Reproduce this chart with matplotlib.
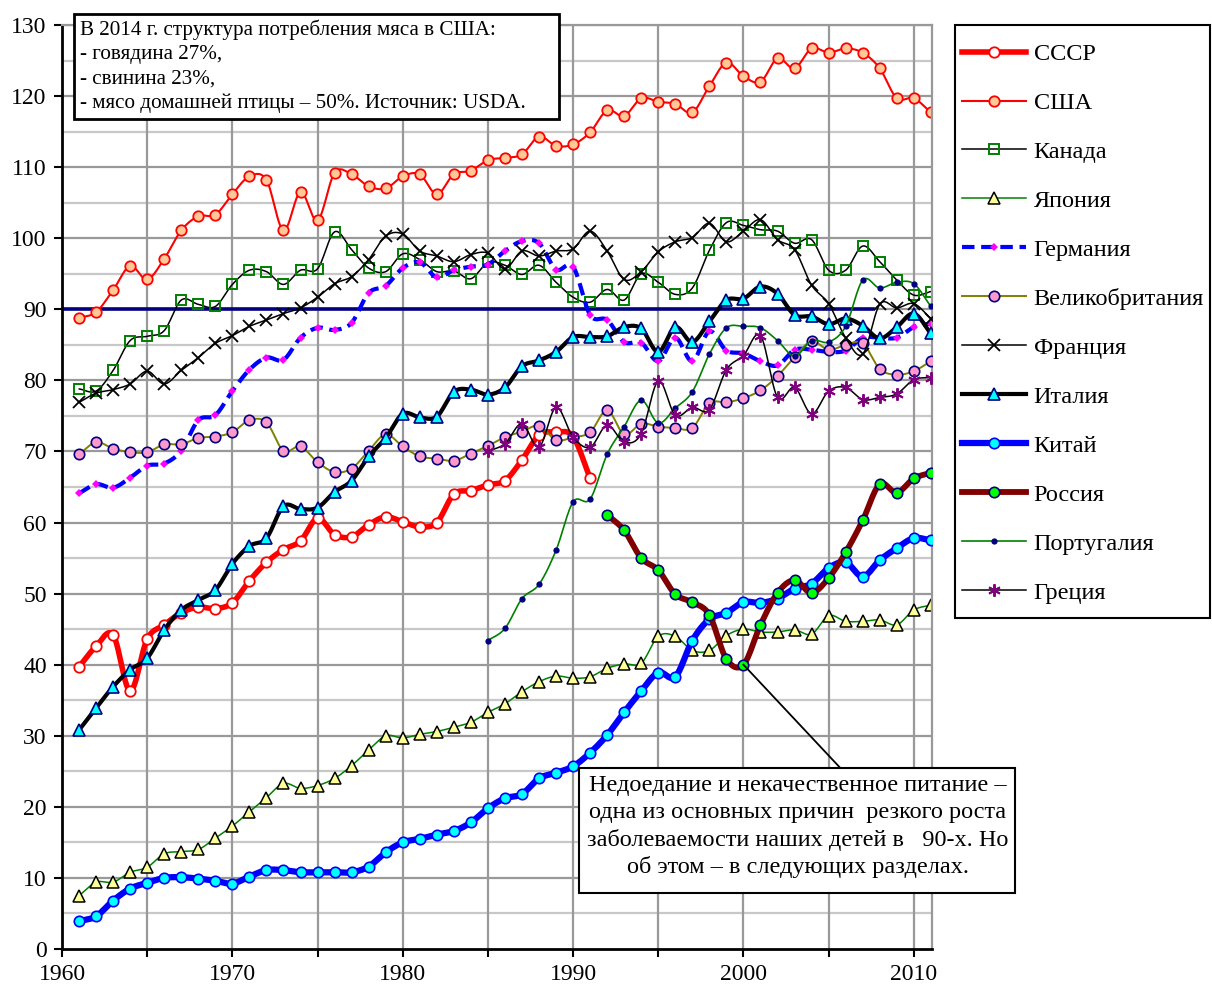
import numpy as np
import matplotlib
matplotlib.use("Agg")
import matplotlib.pyplot as plt
from matplotlib.lines import Line2D
from matplotlib.patches import Rectangle

plt.rcParams['font.family'] = ['Liberation Serif', 'DejaVu Serif']

# ---------------- data ----------------
years_all = list(range(1961, 2012))
years_ussr = list(range(1961, 1992))
years_russia = list(range(1992, 2012))
years_pt_gr = list(range(1985, 2012))

ussr = [39.7, 42.6, 44.2, 36.3, 43.6, 45.6, 47.3, 48.1, 47.9, 48.7,
        51.8, 54.4, 56.2, 57.4, 60.6, 58.3, 58.0, 59.7, 60.8, 60.1,
        59.4, 60.0, 64.0, 64.5, 65.3, 65.9, 68.8, 72.3, 72.7, 72.1, 66.2]
usa = [88.8, 89.6, 92.7, 96.1, 94.2, 97.1, 101.1, 103.1, 103.3, 106.2,
       108.7, 108.2, 101.1, 106.5, 102.5, 109.2, 109.0, 107.3, 107.0, 108.7,
       109.0, 106.2, 109.0, 109.5, 111.0, 111.3, 111.8, 114.3, 113.0, 113.2,
       114.9, 118.0, 117.2, 119.7, 119.2, 118.9, 117.7, 121.4, 124.7, 122.8,
       122.0, 125.3, 123.9, 126.7, 126.1, 126.7, 126.1, 123.9, 119.7, 119.7, 117.7]
canada = [78.8, 78.5, 81.4, 85.6, 86.2, 87.0, 91.3, 90.7, 90.4, 93.5,
          95.5, 95.3, 93.5, 95.5, 95.7, 100.9, 98.4, 95.8, 95.3, 97.8,
          97.0, 95.3, 95.4, 94.3, 96.6, 96.2, 94.9, 96.2, 93.8, 91.7,
          91.0, 92.8, 91.3, 95.0, 93.8, 92.1, 93.0, 98.3, 102.2, 101.8,
          101.2, 101.0, 99.3, 99.8, 95.5, 95.5, 98.9, 96.7, 94.1, 92.0, 92.5]
japan = [7.5, 9.4, 9.4, 10.8, 11.5, 13.4, 13.7, 14.0, 15.6, 17.3,
         19.3, 21.3, 23.3, 22.6, 23.0, 24.0, 25.8, 28.0, 30.0, 29.7,
         30.2, 30.6, 31.2, 31.9, 33.3, 34.5, 36.2, 37.6, 38.4, 38.1,
         38.3, 39.5, 40.1, 40.2, 44.0, 44.0, 42.0, 42.0, 44.1, 45.0,
         44.6, 44.6, 44.9, 44.3, 46.9, 46.1, 46.1, 46.3, 45.6, 47.7, 48.4]
germany = [64.1, 65.4, 64.9, 66.3, 68.0, 68.3, 70.1, 74.4, 75.1, 78.5,
           81.5, 83.2, 82.9, 86.0, 87.4, 87.1, 88.1, 92.3, 93.3, 95.8,
           96.6, 94.5, 95.5, 96.0, 96.3, 98.2, 99.6, 99.3, 95.6, 96.0,
           89.2, 88.5, 85.4, 85.3, 82.7, 86.0, 82.7, 86.9, 84.2, 83.8,
           82.7, 82.1, 84.3, 84.3, 84.0, 84.2, 86.0, 86.0, 86.0, 87.5, 88.0]
uk = [69.6, 71.3, 70.4, 69.9, 69.9, 71.0, 71.0, 71.9, 72.1, 72.7,
      74.4, 74.1, 70.1, 70.7, 68.5, 67.1, 67.6, 70.1, 72.4, 70.7,
      69.3, 69.0, 68.7, 69.7, 70.8, 72.0, 72.8, 73.6, 71.6, 72.0,
      72.7, 75.8, 72.4, 73.9, 73.5, 73.3, 73.3, 76.8, 76.9, 77.5,
      78.6, 80.6, 83.3, 85.5, 84.3, 85.0, 85.2, 81.6, 80.8, 81.3, 82.7]
france = [76.9, 78.2, 78.7, 79.5, 81.3, 79.5, 81.4, 83.2, 85.2, 86.3,
          87.6, 88.5, 89.4, 90.2, 91.7, 93.6, 94.6, 97.0, 100.3, 100.6,
          98.2, 97.5, 96.7, 97.7, 97.9, 95.7, 98.2, 97.5, 98.2, 98.5,
          101.0, 98.2, 94.2, 95.3, 98.1, 99.5, 100.1, 102.1, 99.5, 101.0,
          102.6, 99.8, 98.4, 93.4, 90.8, 86.0, 83.7, 90.7, 90.2, 90.8, 88.7]
italy = [30.8, 33.9, 36.9, 39.3, 40.9, 44.9, 47.7, 49.1, 50.5, 54.2,
         56.7, 57.8, 62.3, 61.9, 62.1, 64.3, 65.9, 69.3, 71.9, 75.3,
         74.8, 74.9, 78.4, 78.7, 78.0, 79.0, 82.0, 82.8, 84.0, 86.1,
         86.1, 86.2, 87.5, 87.3, 84.0, 87.5, 85.4, 88.3, 91.3, 91.5,
         93.2, 92.2, 89.2, 89.0, 87.9, 88.7, 87.7, 85.9, 87.5, 89.4, 86.6]
china = [3.9, 4.6, 6.8, 8.5, 9.3, 10.0, 10.1, 9.9, 9.6, 9.2,
         10.2, 11.1, 11.1, 10.8, 10.8, 10.8, 10.8, 11.6, 13.6, 15.0,
         15.5, 16.1, 16.6, 17.8, 19.8, 21.2, 21.8, 24.0, 24.8, 25.7,
         27.6, 30.1, 33.3, 36.3, 38.9, 38.3, 43.4, 46.4, 47.3, 48.8,
         48.7, 49.3, 50.7, 51.4, 53.6, 54.4, 52.4, 54.7, 56.4, 57.8, 57.5]
russia = [61.1, 58.9, 55.0, 53.3, 49.9, 48.8, 47.0, 40.8, 40.0, 45.6,
          50.1, 51.9, 50.1, 52.2, 55.8, 60.3, 65.4, 64.2, 66.2, 67.0]
portugal = [43.4, 45.1, 49.3, 51.3, 56.1, 62.9, 63.3, 69.6, 73.5, 77.2,
            74.0, 76.1, 78.4, 83.7, 87.4, 87.6, 87.4, 85.6, 83.4, 85.6,
            85.4, 87.6, 94.1, 93.0, 93.8, 93.6, 90.4]
greece = [70.0, 71.1, 73.9, 70.6, 76.2, 72.0, 70.6, 73.7, 71.3, 72.5,
          79.9, 75.1, 76.2, 75.9, 81.5, 83.5, 86.3, 77.6, 79.0, 75.3,
          78.5, 79.0, 77.3, 77.6, 78.1, 80.1, 80.4]

norm_years = [1960, 2007.6]
norm_value = [90, 90]

box_lines = ["В 2014 г. структура потребления мяса в США:",
             "- говядина 27%,",
             "- свинина 23%,",
             "- мясо домашней птицы – 50%. Источник: USDA."]
note_lines = ["Недоедание и некачественное питание –",
              "одна из основных причин  резкого роста",
              "заболеваемости наших детей в   90-х. Но",
              "об этом – в следующих разделах."]
note_target = (2000, 40.0)
note_anchor = (2005.83, 25.1)

# ---------------- helpers ----------------
def smooth(x, y, n=14):
    x = np.asarray(x, float); y = np.asarray(y, float)
    if len(x) < 3:
        return x, y
    px = np.concatenate([[2 * x[0] - x[1]], x, [2 * x[-1] - x[-2]]])
    py = np.concatenate([[2 * y[0] - y[1]], y, [2 * y[-1] - y[-2]]])
    t = np.linspace(0, 1, n, endpoint=False)
    xs, ys = [], []
    for i in range(len(x) - 1):
        for arr, out in ((px, xs), (py, ys)):
            p0, p1, p2, p3 = arr[i], arr[i + 1], arr[i + 2], arr[i + 3]
            out.append(0.5 * (2 * p1 + (-p0 + p2) * t + (2 * p0 - 5 * p1 + 4 * p2 - p3) * t ** 2
                              + (-p0 + 3 * p1 - 3 * p2 + p3) * t ** 3))
    xs = np.concatenate(xs + [[x[-1]]]); ys = np.concatenate(ys + [[y[-1]]])
    return xs, ys

W, H = 1212, 989
fig = plt.figure(figsize=(W / 100, H / 100), dpi=100)
ax = fig.add_axes([62 / W, 1 - 949 / H, (931.7 - 62) / W, (949 - 25) / H])

# grid
for yv in range(5, 130, 10):
    ax.axhline(yv, color='#c8c8c8', lw=1.6, zorder=0.5)
for yv in range(10, 131, 10):
    ax.axhline(yv, color='#999999', lw=1.6, zorder=0.6)
for xv in range(1965, 2011, 5):
    ax.axvline(xv, color='#999999', lw=1.6, zorder=0.6)

ax.plot(norm_years, norm_value, color='#000080', lw=2.6, zorder=1.5)

series = [
    ("СССР", years_ussr, ussr, dict(color='#ff0000', lw=4.0), dict(marker='o', ms=7.5, mfc='white', mec='#ff0000', mew=1.3)),
    ("США", years_all, usa, dict(color='#ff0000', lw=1.5), dict(marker='o', ms=7.5, mfc='#ffc896', mec='#ff0000', mew=1.3)),
    ("Канада", years_all, canada, dict(color='black', lw=1.1), dict(marker='s', ms=7, mfc='none', mec='#008000', mew=1.4)),
    ("Япония", years_all, japan, dict(color='#008000', lw=1.1), dict(marker='^', ms=8.5, mfc='#ffff99', mec='black', mew=1.1)),
    ("Германия", years_all, germany, dict(color='#0000ff', lw=3.0, ls=(0, (3, 1.6))), dict(marker='D', ms=4.5, mfc='#ff00ff', mec='#ff00ff', mew=0)),
    ("Великобритания", years_all, uk, dict(color='#808000', lw=1.4), dict(marker='o', ms=7.5, mfc='#ff99cc', mec='#000080', mew=1.2)),
    ("Франция", years_all, france, dict(color='black', lw=1.1), dict(marker='x', ms=8.5, mfc='black', mec='black', mew=1.3)),
    ("Италия", years_all, italy, dict(color='black', lw=3.0), dict(marker='^', ms=8.5, mfc='#00ffff', mec='#000080', mew=1.2)),
    ("Китай", years_all, china, dict(color='#0000ff', lw=4.5), dict(marker='o', ms=7.5, mfc='#00ffff', mec='#0000ff', mew=1.2)),
    ("Россия", years_russia, russia, dict(color='#800000', lw=4.2), dict(marker='o', ms=7.5, mfc='#00ff00', mec='#000080', mew=1.2)),
    ("Португалия", years_pt_gr, portugal, dict(color='#008000', lw=1.2), dict(marker='o', ms=4.5, mfc='#000080', mec='#000080', mew=0)),
    ("Греция", years_pt_gr, greece, dict(color='black', lw=1.1), dict(marker=(6, 2, 0), ms=9, mfc='#800080', mec='#800080', mew=1.4)),
]

handles = []
for i, (name, xs, ys, lkw, mkw) in enumerate(series):
    sx, sy = smooth(xs, ys)
    ax.plot(sx, sy, zorder=2 + i * 0.1, solid_capstyle='round', **lkw)
    ax.plot(xs, ys, ls='none', zorder=2.05 + i * 0.1, **mkw)
    handles.append(Line2D([0], [0], label=name, **lkw, **mkw))

ax.set_xlim(1960, 2011.05)
ax.set_ylim(0, 130)
ax.set_xticks(range(1960, 2011, 10))
ax.set_xticks(range(1965, 2011, 10), minor=True)
ax.set_yticks(range(0, 131, 10))
ax.tick_params(axis='both', which='both', direction='out', length=6, width=1.5, labelsize=17, colors='black')
ax.tick_params(axis='x', pad=5)
ax.tick_params(axis='y', pad=5)
for s in ('left', 'bottom'):
    ax.spines[s].set_linewidth(2)
    ax.spines[s].set_color('black')
for s in ('top', 'right'):
    ax.spines[s].set_color('#999999')
    ax.spines[s].set_linewidth(1.6)

# annotation arrow and box
ax.plot([note_target[0], note_anchor[0]], [note_target[1], note_anchor[1]], color='black', lw=1.3, zorder=5)

def px_rect(x0, y0, x1, y1, lw=1.5):
    fig.patches.append(Rectangle((x0 / W, 1 - y1 / H), (x1 - x0) / W, (y1 - y0) / H,
                                 transform=fig.transFigure, fc='white', ec='black', lw=lw, zorder=10))

px_rect(74, 14, 559, 119, lw=2)
for k, line in enumerate(box_lines):
    fig.text(80 / W, 1 - (35 + 24.3 * k) / H, line, fontsize=15.2, va='baseline', ha='left', zorder=11)

px_rect(579, 768, 1015, 893, lw=1.5)
for k, line in enumerate(note_lines):
    fig.text(798 / W, 1 - (791 + 27.3 * k) / H, line, fontsize=17.5, va='baseline', ha='center', zorder=11)

# legend
px_rect(955, 25, 1210, 618, lw=1.5)
leg = fig.legend(handles=handles, loc='upper left', bbox_to_anchor=(962 / W, 1 - 43 / H),
                 frameon=False, fontsize=17.5, handlelength=2.65, handletextpad=0.3,
                 labelspacing=1.11, borderpad=0, borderaxespad=0)
leg.set_zorder(12)

fig.savefig('out.png', dpi=100)
